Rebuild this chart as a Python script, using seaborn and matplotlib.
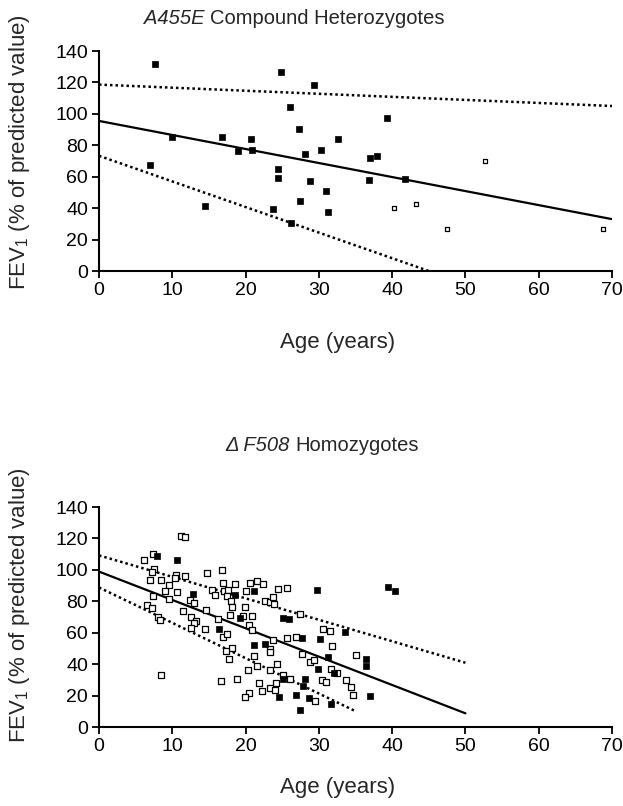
import matplotlib
matplotlib.use("Agg")
import matplotlib.pyplot as plt
import seaborn as sns

sns.set_style("ticks")
plt.rcParams['font.family'] = ['Liberation Sans', 'DejaVu Sans']
plt.rcParams['mathtext.fontset'] = 'custom'
plt.rcParams['mathtext.rm'] = 'Liberation Sans'
plt.rcParams['mathtext.it'] = 'Liberation Sans:italic'

# ---------------- data ----------------
top_title_italic = "A455E"
top_title_rest = "Compound Heterozygotes"
bottom_title_italic = "\u0394 F508"
bottom_title_rest = "Homozygotes"
xlabel = "Age (years)"
ylabel = r"FEV$_1$ (% of predicted value)"
xticks = [0, 10, 20, 30, 40, 50, 60, 70]
yticks = [0, 20, 40, 60, 80, 100, 120, 140]

top_filled_age = [7.7, 24.9, 29.4, 26.0, 27.3, 9.9, 16.8, 20.7, 32.6, 18.9, 20.9, 28.1,
                  30.3, 7.0, 24.4, 24.4, 28.8, 31.0, 27.4, 14.5, 23.7, 31.2, 26.2,
                  39.3, 37.0, 38.0, 36.9, 41.7]
top_filled_fev = [131.6, 126.7, 118.4, 104.2, 90.5, 85.5, 85.5, 83.9, 83.9, 76.2, 76.7, 74.6,
                  77.3, 67.4, 65.2, 59.2, 57.5, 51.0, 44.4, 41.1, 39.5, 37.8, 30.7,
                  97.6, 71.8, 72.9, 58.1, 58.6]
top_open_age = [52.7, 40.2, 43.2, 47.5, 68.8]
top_open_fev = [70.2, 40.2, 42.7, 26.7, 27.0]

top_fit_age = [0, 70]
top_fit_fev = [95.5, 33.0]
top_upper_age = [0, 70]
top_upper_fev = [118.6, 105.0]
top_lower_age = [0, 45]
top_lower_fev = [73.3, 0.0]

bot_open_age = [11.2, 11.8, 6.1, 7.4, 7.5, 7.2, 7.0, 8.5, 9.5, 9.0, 10.6, 7.4, 9.5, 6.6, 7.2,
                8.1, 8.3, 10.5, 10.4, 11.8, 14.7, 16.8, 16.9, 18.6, 20.6, 21.6, 22.4, 15.4,
                15.8, 17.1, 17.6, 17.4, 20.0, 12.4, 13.0, 18.0, 18.2, 19.9, 14.6, 11.5, 17.9,
                19.6, 20.9, 12.5, 13.2, 12.9, 16.3, 12.6, 14.4, 20.4, 20.9, 22.7, 23.4, 23.9,
                23.7, 24.4, 25.6,
                8.5, 16.9, 17.5, 18.2, 17.3, 17.7, 16.7, 18.8, 20.3, 21.2, 21.5, 23.7, 23.4,
                23.4, 24.3, 23.4, 25.1, 26.0, 24.1, 21.9, 23.4, 24.0, 22.2, 20.4, 19.9, 25.6,
                26.9,
                27.4, 30.6, 31.5, 31.8, 27.7, 28.8, 29.3, 35.0, 31.6, 32.5, 30.4, 31.0, 33.7,
                34.4, 34.7, 29.5]
bot_open_fev = [121.7, 120.8, 106.4, 110.1, 100.7, 98.7, 93.5, 93.5, 90.1, 86.7, 85.8, 83.2,
                81.2, 77.9, 75.7, 70.3, 68.1, 96.5, 94.8, 96.3, 97.8, 100.2, 91.5, 90.8, 91.7,
                92.8, 91.0, 87.3, 84.3, 86.3, 86.9, 83.3, 86.7, 80.8, 79.0, 79.9, 76.2, 76.6,
                74.6, 73.6, 71.1, 70.7, 70.7, 70.2, 67.5, 66.2, 68.8, 63.2, 62.3, 64.8, 62.0,
                80.5, 79.4, 78.1, 83.0, 87.8, 88.5,
                33.0, 57.3, 59.1, 50.3, 48.4, 43.1, 29.5, 30.6, 36.1, 45.5, 38.7, 55.4, 49.7,
                47.9, 40.3, 36.3, 33.3, 30.4, 27.8, 28.0, 24.9, 23.8, 23.0, 21.7, 18.8, 56.7,
                57.4,
                72.0, 62.4, 60.8, 51.4, 46.4, 41.6, 42.4, 45.9, 37.2, 34.3, 30.2, 28.9, 29.8,
                25.4, 20.2, 16.4]
bot_filled_age = [7.9, 10.6, 12.8, 18.5, 21.1, 19.3, 25.1, 25.9, 16.4,
                  21.1, 22.6, 25.1, 24.5, 26.9,
                  29.8, 39.4, 40.4, 33.5, 27.7, 30.2, 31.3, 36.4, 36.5, 29.9, 32.0, 28.1,
                  27.8, 28.7, 31.7, 27.4, 37.0]
bot_filled_fev = [108.6, 106.4, 84.8, 84.3, 86.5, 69.4, 69.6, 68.9, 62.3,
                  52.3, 52.9, 30.8, 19.2, 20.5,
                  87.1, 89.3, 86.6, 60.6, 56.7, 56.2, 44.6, 43.5, 39.1, 36.8, 34.6, 30.8,
                  25.8, 18.6, 14.7, 10.9, 19.8]

bot_fit_age = [0, 50]
bot_fit_fev = [98.9, 8.7]
bot_upper_age = [0, 50]
bot_upper_fev = [109.2, 40.9]
bot_lower_age = [0, 34.8]
bot_lower_fev = [88.8, 10.5]

# ---------------- figure ----------------
W, H = 623, 806
fig = plt.figure(figsize=(W / 100, H / 100), dpi=100)
ax1 = fig.add_axes([99 / W, (H - 271) / H, 513 / W, 220 / H])
ax2 = fig.add_axes([99 / W, (H - 727) / H, 513 / W, 220 / H])


def fx(px):
    return px / W


def fy(py):
    return 1 - py / H


def draw(ax, f_age, f_fev, o_age, o_fev, lines, ms_f, ms_o):
    for (xa, ya, ls) in lines:
        sns.lineplot(x=xa, y=ya, ax=ax, color='black', linewidth=1.6 if ls == '-' else 1.8,
                     linestyle=ls if ls == '-' else (0, (1, 1.2)), zorder=2)
    sns.scatterplot(x=o_age, y=o_fev, ax=ax, marker='s', s=ms_o, color='white',
                    edgecolor='black', linewidth=0.9, zorder=3)
    sns.scatterplot(x=f_age, y=f_fev, ax=ax, marker='s', s=ms_f, color='black',
                    edgecolor='black', linewidth=0.5, zorder=4)
    ax.set_xlim(0, 70)
    ax.set_ylim(0, 140)
    ax.set_xticks(xticks)
    ax.set_yticks(yticks)
    ax.tick_params(labelsize=14, length=5, width=1.3, pad=3, colors='black')
    for sp in ['top', 'right']:
        ax.spines[sp].set_visible(False)
    for sp in ['left', 'bottom']:
        ax.spines[sp].set_linewidth(1.5)
        ax.spines[sp].set_color('black')
    ax.set_xlabel("")
    ax.set_ylabel("")


draw(ax1, top_filled_age, top_filled_fev, top_open_age, top_open_fev,
     [(top_fit_age, top_fit_fev, '-'), (top_upper_age, top_upper_fev, ':'),
      (top_lower_age, top_lower_fev, ':')], 14, 12)
draw(ax2, bot_filled_age, bot_filled_fev, bot_open_age, bot_open_fev,
     [(bot_fit_age, bot_fit_fev, '-'), (bot_upper_age, bot_upper_fev, ':'),
      (bot_lower_age, bot_lower_fev, ':')], 16, 16)

renderer = fig.canvas.get_renderer()


def two_part_title(xc, yc, ital, rest, fs):
    t1 = fig.text(0, fy(yc), ital, fontsize=fs, style='italic', ha='left', va='center')
    t2 = fig.text(0, fy(yc), rest, fontsize=fs, ha='left', va='center')
    w1 = t1.get_window_extent(renderer).width
    w2 = t2.get_window_extent(renderer).width
    gap = 0.28 * fs * 100 / 72
    x0 = xc - (w1 + gap + w2) / 2
    t1.set_x(fx(x0))
    t2.set_x(fx(x0 + w1 + gap))


two_part_title(294, 18, top_title_italic, top_title_rest, 14.5)
two_part_title(322, 445, bottom_title_italic, bottom_title_rest, 14.5)
fig.text(fx(338), fy(343), xlabel, fontsize=16, ha='center', va='center')
fig.text(fx(338), fy(788), xlabel, fontsize=16, ha='center', va='center')
fig.text(fx(20), fy(152), ylabel, fontsize=16, ha='center', va='center', rotation=90)
fig.text(fx(20), fy(605), ylabel, fontsize=16, ha='center', va='center', rotation=90)

fig.savefig("out.png", dpi=100)
